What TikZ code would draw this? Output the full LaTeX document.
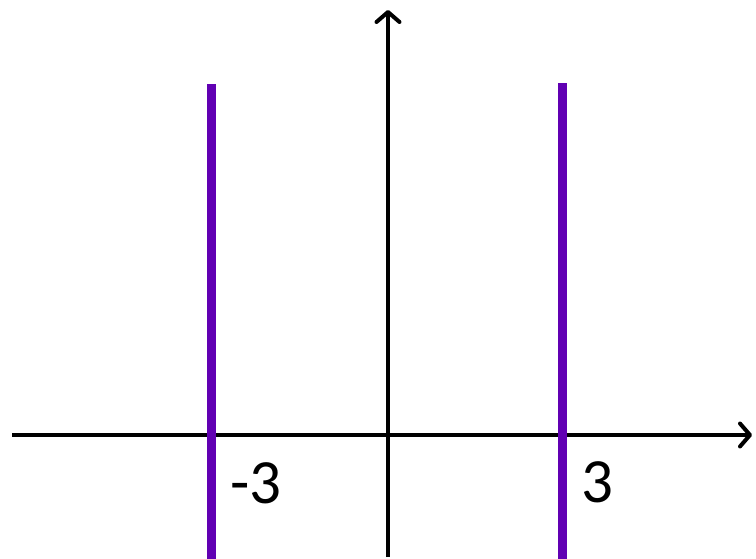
\documentclass[tikz,border=0pt]{standalone}
\usepackage{fontspec}
\setmainfont{Carlito}
\usetikzlibrary{arrows.meta}
\definecolor{spike}{HTML}{6100B3}
\tikzset{
  axis/.style={line width=4pt, -{Straight Barb[length=10pt,width=23pt,round]}},
  spikeline/.style={line width=8.5pt, spike},
  lbl/.style={font=\fontsize{63}{70}\selectfont, inner sep=0pt, text=black}
}
\begin{document}
\begin{tikzpicture}[x=1pt,y=-1pt]
\useasboundingbox (0,0) rectangle (756,559);
\coordinate (xl) at (12,435);
\coordinate (xr) at (752,435);
\coordinate (yb) at (388,557);
\coordinate (yt) at (388,10);
\coordinate (l1b) at (211.5,559);
\coordinate (l1t) at (211.5,84);
\coordinate (l2b) at (562.5,559);
\coordinate (l2t) at (562.5,83);
\draw[axis] (xl) -- (xr);
\draw[axis] (yb) -- (yt);
\draw[spikeline] (l1b) -- (l1t);
\draw[spikeline] (l2b) -- (l2t);
\node[lbl] (m3) at (256,483) {-3};
\node[lbl] (p3) at (597.5,482) {3};
\end{tikzpicture}
\end{document}
